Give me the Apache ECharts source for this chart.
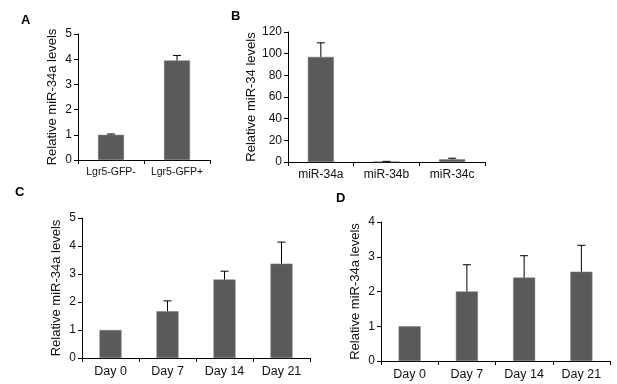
<!DOCTYPE html>
<html>
<head>
<meta charset="utf-8">
<script src="https://cdn.jsdelivr.net/npm/echarts@6/dist/echarts.min.js"></script>
<style>
  html, body { margin: 0; padding: 0; background: #fff; }
  #chart { width: 617px; height: 384px; }
</style>
</head>
<body>
<div id="chart"></div>
<script>
// panel A
var catsA = ['Lgr5-GFP-', 'Lgr5-GFP+']
var valsA = [1.0, 3.95]
var errA = [0.03, 0.2]
// panel B
var catsB = ['miR-34a', 'miR-34b', 'miR-34c']
var valsB = [97, 0.4, 2.5]
var errB = [13, 0.2, 1.0]
// panel C
var catsC = ['Day 0', 'Day 7', 'Day 14', 'Day 21']
var valsC = [1.0, 1.67, 2.8, 3.37]
var errC = [0, 0.37, 0.3, 0.77]
// panel D
var catsD = ['Day 0', 'Day 7', 'Day 14', 'Day 21']
var valsD = [1.0, 2.0, 2.4, 2.57]
var errD = [0, 0.77, 0.63, 0.76]

var FONT = 'Liberation Sans, Arial, sans-serif'
var BAR = '#5a5a5a'

var chart = echarts.init(document.getElementById('chart'))

function xAx(i, cats, fs){
    return {
        type: 'category', gridIndex: i, data: cats,
        axisLine: { lineStyle: { color: '#000', width: 1 } },
        axisTick: { show: true, alignWithLabel: false, length: 4, lineStyle: { color: '#000' } },
        axisLabel: { color: '#111', fontSize: fs, fontFamily: FONT, margin: 7, interval: 0 }
    }
}
function yAx(i, max, interval, name, gap){
    return {
        type: 'value', gridIndex: i, min: 0, max: max, interval: interval,
        name: name, nameLocation: 'middle', nameGap: gap, nameRotate: 90,
        nameTextStyle: { color: '#111', fontSize: 13, fontFamily: FONT },
        axisLine: { show: true, lineStyle: { color: '#000', width: 1 } },
        axisTick: { show: true, length: 4, lineStyle: { color: '#000' } },
        axisLabel: { color: '#111', fontSize: 12, fontFamily: FONT, margin: 6 },
        splitLine: { show: false }
    }
}
function barS(i, vals, w){
    return {
        type: 'bar', xAxisIndex: i, yAxisIndex: i, data: vals, barWidth: w,
        itemStyle: { color: BAR, borderColor: '#777', borderWidth: 0.5 },
        silent: true
    }
}
function errS(i, vals, errs){
    var d = vals.map(function(v, k){ return [k, v, v + errs[k]] })
    return {
        type: 'custom', xAxisIndex: i, yAxisIndex: i, data: d, silent: true, z: 3,
        renderItem: function(params, api){
            if (api.value(2) - api.value(1) <= 0) return
            var p0 = api.coord([api.value(0), api.value(1)])
            var p1 = api.coord([api.value(0), api.value(2)])
            var hw = 4
            return {
                type: 'group',
                children: [
                    { type: 'line', shape: { x1: p0[0], y1: p0[1], x2: p1[0], y2: p1[1] }, style: { stroke: '#000', lineWidth: 1 } },
                    { type: 'line', shape: { x1: p1[0] - hw, y1: p1[1], x2: p1[0] + hw, y2: p1[1] }, style: { stroke: '#000', lineWidth: 1 } }
                ]
            }
        }
    }
}

var option = {
    animation: false,
    backgroundColor: '#fff',
    title: [
        { text: 'A', left: 16, top: 9, textStyle: { fontSize: 13, fontWeight: 'bold', fontFamily: FONT, color: '#000' } },
        { text: 'B', left: 226, top: 5, textStyle: { fontSize: 13, fontWeight: 'bold', fontFamily: FONT, color: '#000' } },
        { text: 'C', left: 10, top: 181, textStyle: { fontSize: 13, fontWeight: 'bold', fontFamily: FONT, color: '#000' } },
        { text: 'D', left: 331, top: 187, textStyle: { fontSize: 13, fontWeight: 'bold', fontFamily: FONT, color: '#000' } }
    ],
    grid: [
        { left: 78, top: 34, width: 132, height: 126 },
        { left: 288, top: 32, width: 197, height: 130 },
        { left: 82, top: 218, width: 228, height: 140 },
        { left: 381, top: 222, width: 229, height: 139 }
    ],
    xAxis: [xAx(0, catsA, 10.5), xAx(1, catsB, 12), xAx(2, catsC, 12.5), xAx(3, catsD, 12.5)],
    yAxis: [
        yAx(0, 5, 1, 'Relative miR-34a levels', 19),
        yAx(1, 120, 20, 'Relative miR-34 levels', 29),
        yAx(2, 5, 1, 'Relative miR-34a levels', 19),
        yAx(3, 4, 1, 'Relative miR-34a levels', 19)
    ],
    series: [
        barS(0, valsA, 26), errS(0, valsA, errA),
        barS(1, valsB, 26), errS(1, valsB, errB),
        barS(2, valsC, 22), errS(2, valsC, errC),
        barS(3, valsD, 22), errS(3, valsD, errD)
    ]
}

chart.setOption(option)
</script>
</body>
</html>
